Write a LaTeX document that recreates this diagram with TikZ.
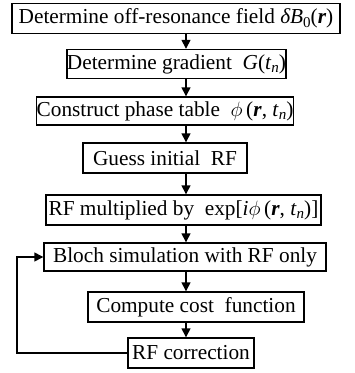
\documentclass[tikz,border=0pt]{standalone}
\usepackage{fontspec}
\setmainfont{Liberation Serif}
\usetikzlibrary{arrows.meta}
\newcommand{\bvec}[1]{\textbf{\textit{#1}}}
\newcommand{\lowsub}[1]{\raisebox{-0.18em}{\fontsize{15}{15}\selectfont #1}}
\newcommand{\tn}{\textit{t}\lowsub{\textit{n}}}
\newcommand{\myphi}{$\phi$}
\begin{document}
\begin{tikzpicture}[x=1pt,y=-1pt,
  box/.style={draw, line width=1.4pt, inner sep=0pt, font=\fontsize{21.3}{24}\selectfont},
  arr/.style={line width=1.4pt, -{Triangle[length=9pt,width=9pt]}}]
\useasboundingbox (0,0) rectangle (355,373);
\coordinate (ax) at (186,0);
\coordinate (fb) at (17,0);
\node[box, minimum width=328pt, minimum height=30pt] (b1) at (176,18.5)
  {Determine off-resonance field \textit{δB}\lowsub{0}(\bvec{r})};
\node[box, minimum width=217pt, minimum height=29pt] (b2) at (176.5,64)
  {Determine gradient \ \textit{G}(\tn)};
\node[box, minimum width=246pt, minimum height=28pt] (b3) at (165,111)
  {Construct phase table \ \myphi\,(\bvec{r}, \tn)};
\node[box, minimum width=164pt, minimum height=30pt] (b4) at (165,158)
  {Guess initial \ RF};
\node[box, minimum width=275pt, minimum height=30pt] (b5) at (183.5,210)
  {RF multiplied by \ exp[\textit{i}\myphi\,(\bvec{r}, \tn)]};
\node[box, minimum width=282pt, minimum height=28pt] (b6) at (185,257)
  {Bloch simulation with RF only};
\node[box, minimum width=216pt, minimum height=30pt] (b7) at (196,307)
  {Compute cost \ function};
\node[box, minimum width=126pt, minimum height=30pt] (b8) at (191,353)
  {RF correction};
\draw[arr] (b1.south -| ax) -- (b2.north -| ax);
\draw[arr] (b2.south -| ax) -- (b3.north -| ax);
\draw[arr] (b3.south -| ax) -- (b4.north -| ax);
\draw[arr] (b4.south -| ax) -- (b5.north -| ax);
\draw[arr] (b5.south -| ax) -- (b6.north -| ax);
\draw[arr] (b6.south -| ax) -- (b7.north -| ax);
\draw[arr] (b7.south -| ax) -- (b8.north -| ax);
\draw[arr] (b8.west) -- (b8.west -| fb) |- (b6.west);
\end{tikzpicture}
\end{document}
